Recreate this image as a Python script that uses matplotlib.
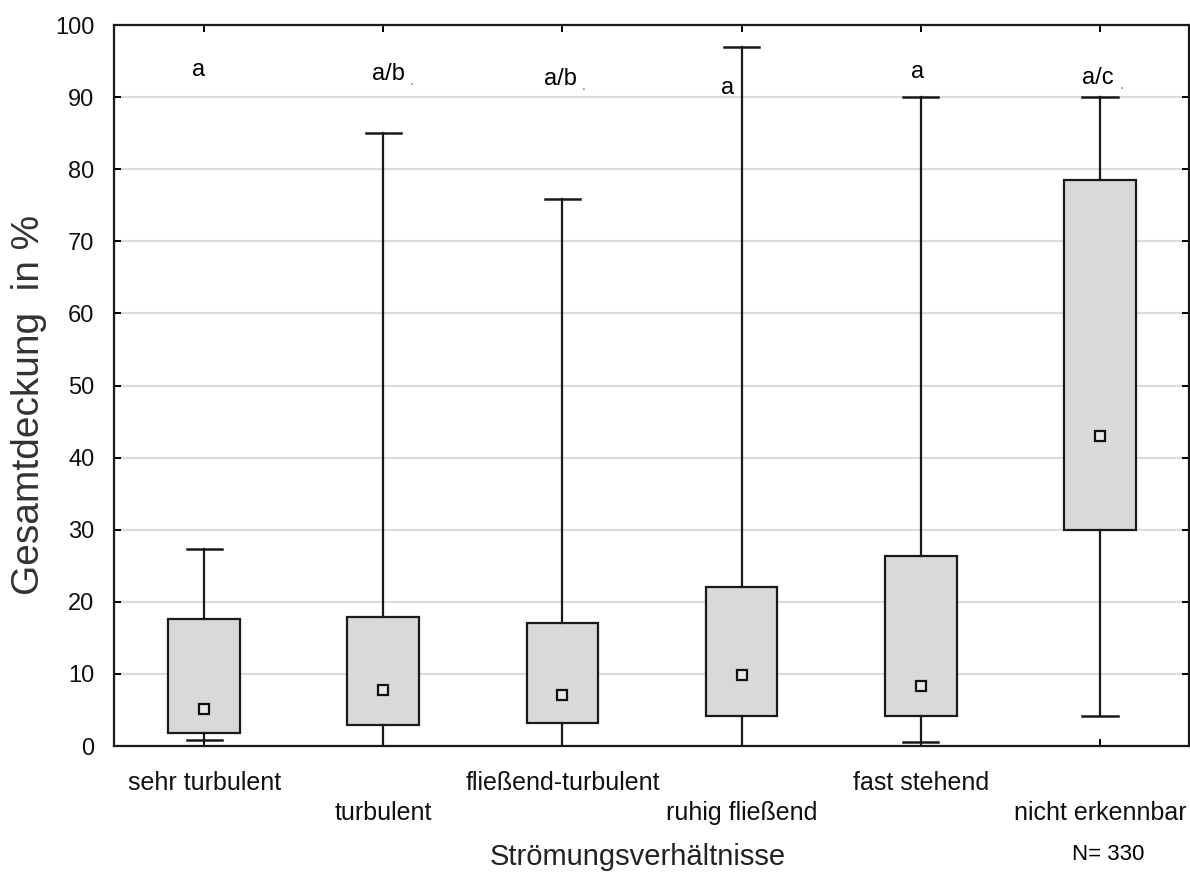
import matplotlib
matplotlib.use("Agg")
import matplotlib.pyplot as plt

plt.rcParams['font.family'] = ['Liberation Sans', 'DejaVu Sans']

# Strömungsklassen und Kennwerte der Gesamtdeckung (%)
categories = ["sehr turbulent", "turbulent", "fließend-turbulent",
              "ruhig fließend", "fast stehend", "nicht erkennbar"]
medians = [5.1, 7.8, 7.1, 9.8, 8.3, 43.0]
q1 = [1.8, 2.9, 3.2, 4.1, 4.1, 30.0]
q3 = [17.6, 17.9, 17.0, 22.0, 26.4, 78.5]
whisker_low = [0.8, 0.0, 0.0, 0.0, 0.6, 4.1]
whisker_high = [27.3, 85.0, 75.9, 97.0, 90.0, 90.0]
group_letters = ["a", "a/b", "a/b", "a", "a", "a/c"]
letter_x = [-0.03, 1.03, 1.99, 2.92, 3.98, 4.99]
letter_y = [93.8, 93.2, 92.5, 91.2, 93.5, 92.6]
y_ticks = [0, 10, 20, 30, 40, 50, 60, 70, 80, 90, 100]
n_total = 330

fig = plt.figure(figsize=(11.9, 8.75), dpi=100)
ax = fig.add_axes([0.0958, 0.1474, 0.9034, 0.824])

positions = list(range(len(categories)))
stats = []
for i in positions:
    stats.append(dict(med=medians[i], q1=q1[i], q3=q3[i],
                      whislo=whisker_low[i], whishi=whisker_high[i],
                      mean=medians[i], fliers=[]))

ax.bxp(stats, positions=positions, widths=0.40, capwidths=0.196,
       patch_artist=True, showmeans=True, showfliers=False,
       boxprops=dict(facecolor='#d9d9d9', edgecolor='#1a1a1a', linewidth=1.6),
       whiskerprops=dict(color='#1a1a1a', linewidth=1.6),
       capprops=dict(color='#1a1a1a', linewidth=1.8),
       medianprops=dict(linewidth=0),
       meanprops=dict(marker='s', markersize=7.5, markerfacecolor='#e8e8e8',
                      markeredgecolor='#111111', markeredgewidth=1.6))

ax.set_xlim(-0.503, 5.497)
ax.set_ylim(0, 100)
ax.set_yticks(y_ticks)
ax.set_yticklabels([str(v) for v in y_ticks], fontsize=17)
ax.set_xticks(positions)
labels = [c if i % 2 == 0 else "\n" + c for i, c in enumerate(categories)]
ax.set_xticklabels(labels, fontsize=18, linespacing=1.3)
ax.yaxis.grid(True, color='#dcdcdc', linewidth=1.6)
ax.set_axisbelow(True)
ax.tick_params(direction='in', length=5, width=1.4, top=True, right=True,
               labelcolor='#111111')
ax.tick_params(axis='y', pad=14)
ax.tick_params(axis='x', pad=18)
for s in ax.spines.values():
    s.set_linewidth(1.6)
    s.set_color('#1a1a1a')

for i, txt in enumerate(group_letters):
    ax.text(letter_x[i], letter_y[i], txt, ha='center', va='center',
            fontsize=17, color='black')
    if '/' in txt:
        ax.text(letter_x[i] + 0.13, letter_y[i] - 0.9, '.', ha='center',
                va='center', fontsize=10, color='#777777')

ax.set_ylabel("Gesamtdeckung  in %", fontsize=28, color='#333333')
ax.yaxis.set_label_coords(-0.062, 0.473)
fig.text(0.536, 0.021, "Strömungsverhältnisse", ha='center', va='center',
         fontsize=21, color='#222222')
fig.text(0.931, 0.023, f"N= {n_total}", ha='center', va='center',
         fontsize=16, color='black')

fig.savefig("out.png", dpi=100)
